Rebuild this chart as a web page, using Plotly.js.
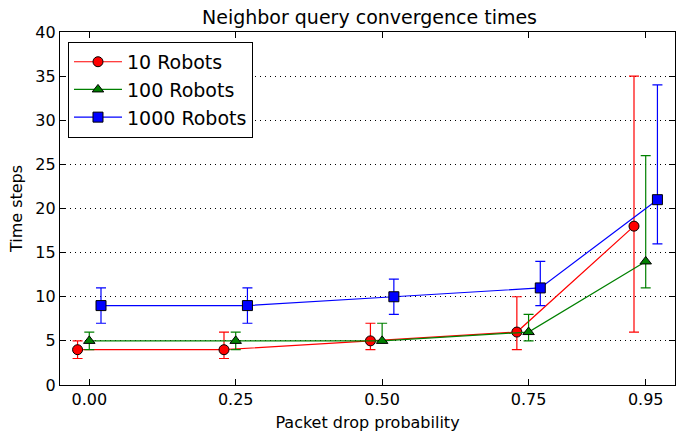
<!DOCTYPE html>
<html>
<head>
<meta charset="utf-8">
<script src="https://cdn.plot.ly/plotly-3.0.1.min.js"></script>
<style>html,body{margin:0;padding:0;background:#fff;}#chart{width:683px;height:432px;}</style>
</head>
<body>
<div id="chart"></div>
<script>
// Data
const xTicks = [0.00, 0.25, 0.50, 0.75, 0.95];
const xTickLabels = ["0.00", "0.25", "0.50", "0.75", "0.95"];
const seriesNames = ["10 Robots", "100 Robots", "1000 Robots"];

// x positions (each series is slightly offset from the tick)
const x10 = [-0.02, 0.23, 0.48, 0.73, 0.93];
const x100 = [0.00, 0.25, 0.50, 0.75, 0.95];
const x1000 = [0.02, 0.27, 0.52, 0.77, 0.97];

const y10 = [4, 4, 5, 6, 18];
const lo10 = [3, 3, 4, 4, 6];
const hi10 = [5, 6, 7, 10, 35];

const y100 = [5, 5, 5, 6, 14];
const lo100 = [4, 4, 5, 5, 11];
const hi100 = [6, 6, 7, 8, 26];

const y1000 = [9, 9, 10, 11, 21];
const lo1000 = [7, 7, 8, 9, 16];
const hi1000 = [11, 11, 12, 14, 34];

const colors = ["#ff0000", "#008000", "#0000ff"];
const symbols = ["circle", "triangle-up", "square"];

function mk(name, x, y, lo, hi, color, symbol, size) {
  return {
    type: "scatter", mode: "lines+markers", name: name,
    x: x, y: y,
    line: {color: color, width: 1.2},
    marker: {symbol: symbol, size: size, color: color, line: {color: "#000", width: 1}},
    error_y: {
      type: "data", symmetric: false,
      array: hi.map((h, i) => h - y[i]),
      arrayminus: lo.map((l, i) => y[i] - l),
      color: color, thickness: 1.2, width: 5
    }
  };
}

const traces = [
  mk(seriesNames[0], x10, y10, lo10, hi10, colors[0], symbols[0], 10),
  mk(seriesNames[1], x100, y100, lo100, hi100, colors[1], symbols[1], 10),
  mk(seriesNames[2], x1000, y1000, lo1000, hi1000, colors[2], symbols[2], 10)
];

const font = "DejaVu Sans, sans-serif";
const layout = {
  width: 683, height: 432,
  margin: {l: 60, r: 8, t: 32, b: 47},
  paper_bgcolor: "#fff", plot_bgcolor: "#fff",
  font: {family: font, size: 16, color: "#000"},
  title: {text: "Neighbor query convergence times", font: {family: font, size: 19, color: "#000"}, x: 0.541, xanchor: "center", y: 0.96, yanchor: "middle"},
  showlegend: true,
  legend: {
    x: 0.013, y: 0.972, xanchor: "left", yanchor: "top",
    bgcolor: "#fff", bordercolor: "#000", borderwidth: 1,
    font: {family: font, size: 19, color: "#000"},
    tracegroupgap: 0, itemwidth: 48
  },
  xaxis: {
    range: [-0.05, 1.0],
    tickmode: "array", tickvals: xTicks, ticktext: xTickLabels,
    ticks: "inside", ticklen: 6, tickwidth: 1, tickcolor: "#000",
    showline: true, linecolor: "#000", linewidth: 1.2, mirror: "ticks",
    showgrid: false, zeroline: false,
    tickfont: {family: font, size: 16, color: "#000"},
    title: {text: "Packet drop probability", font: {family: font, size: 16, color: "#000"}, standoff: 10}
  },
  yaxis: {
    range: [0, 40], tickmode: "linear", tick0: 0, dtick: 5,
    ticks: "inside", ticklen: 6, tickwidth: 1, tickcolor: "#000",
    showline: true, linecolor: "#000", linewidth: 1.2, mirror: "ticks",
    showgrid: true, gridcolor: "#000", gridwidth: 1, griddash: "1px,4px",
    zeroline: false,
    tickfont: {family: font, size: 16, color: "#000"},
    title: {text: "Time steps", font: {family: font, size: 16, color: "#000"}, standoff: 8}
  }
};

Plotly.newPlot("chart", traces, layout, {displayModeBar: false, staticPlot: true});
</script>
</body>
</html>
